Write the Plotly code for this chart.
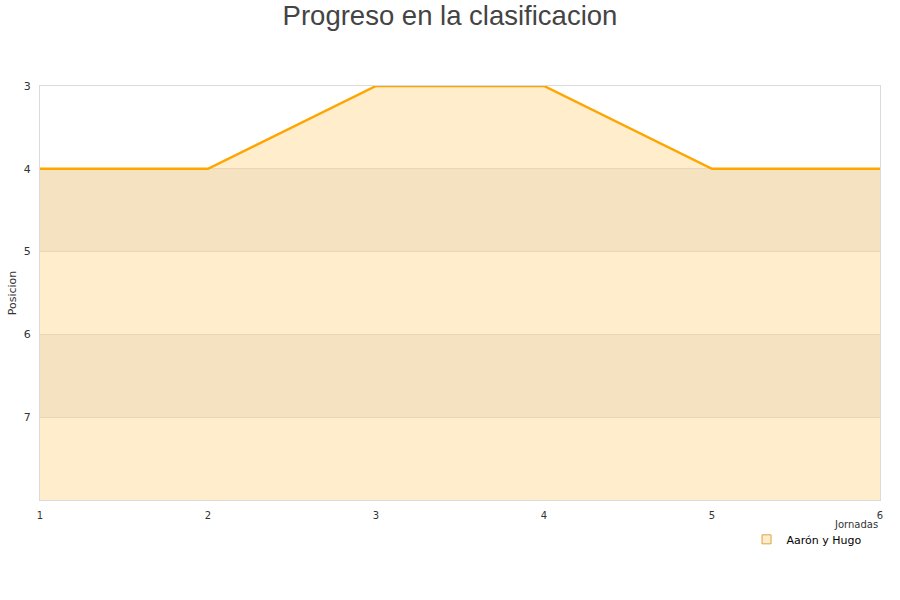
import plotly.graph_objects as go

jornadas = [1, 2, 3, 4, 5, 6]
posiciones = [4, 4, 3, 3, 4, 4]
serie = "Aarón y Hugo"
y_ticks = [3, 4, 5, 6, 7]
y_bottom = 8
y_top = 3
bands = [(4, 5), (6, 7)]

orange = "#FFA500"
fill = "rgba(255,165,0,0.2)"

fig = go.Figure()

fig.add_trace(go.Scatter(
    x=jornadas, y=[y_bottom] * len(jornadas), mode="lines",
    line=dict(width=0), showlegend=False, hoverinfo="skip"))
fig.add_trace(go.Scatter(
    x=jornadas, y=posiciones, mode="lines", name=serie,
    line=dict(color=orange, width=2.5), fill="tonexty", fillcolor=fill,
    showlegend=False))
fig.add_trace(go.Scatter(
    x=[None], y=[None], mode="markers", name=serie,
    marker=dict(symbol="square", size=9, color="#FFEDCC",
                line=dict(color="#E0A040", width=1))))

for b0, b1 in bands:
    fig.add_shape(type="rect", xref="paper", x0=0, x1=1, yref="y", y0=b0, y1=b1,
                  fillcolor="#F2F2F2", line=dict(width=0), layer="below")

fig.add_annotation(text="Jornadas", xref="paper", x=1.0, xanchor="right",
                   yref="paper", y=-0.058, yanchor="middle", showarrow=False,
                   font=dict(family="DejaVu Sans", size=10, color="#333"))

fig.update_layout(
    width=900, height=600,
    margin=dict(l=40, r=20, t=86, b=100, autoexpand=False),
    paper_bgcolor="white", plot_bgcolor="white",
    title=dict(text="Progreso en la clasificacion", x=0.5, xanchor="center",
               y=0.974, yanchor="middle",
               font=dict(family="Liberation Sans, Arial", size=27.5, color="#444")),
    font=dict(family="DejaVu Sans", size=11, color="#333"),
    showlegend=True,
    legend=dict(x=0.984, xanchor="right", y=-0.095, yanchor="middle",
                bgcolor="rgba(0,0,0,0)", font=dict(family="DejaVu Sans", size=11, color="#000"),
                itemwidth=30),
    xaxis=dict(range=[jornadas[0], jornadas[-1]], tickvals=jornadas,
               showgrid=False, zeroline=False, showline=True, mirror=True,
               linecolor="#DADADA", linewidth=1, ticks="", ticklabelstandoff=6,
               tickfont=dict(size=10, color="#333"), automargin=False),
    yaxis=dict(range=[y_bottom, y_top], tickvals=y_ticks, showgrid=True,
               gridcolor="#E3E3E3", zeroline=False, showline=True, mirror=True,
               linecolor="#DADADA", linewidth=1, ticks="", ticklabelstandoff=6,
               tickfont=dict(size=11, color="#333"), automargin=False,
               title=dict(text="Posicion", standoff=4,
                          font=dict(family="DejaVu Sans", size=11, color="#333"))),
)

fig.write_html("out.html", config={"displayModeBar": False},
               post_script="document.body.style.margin='0';")
